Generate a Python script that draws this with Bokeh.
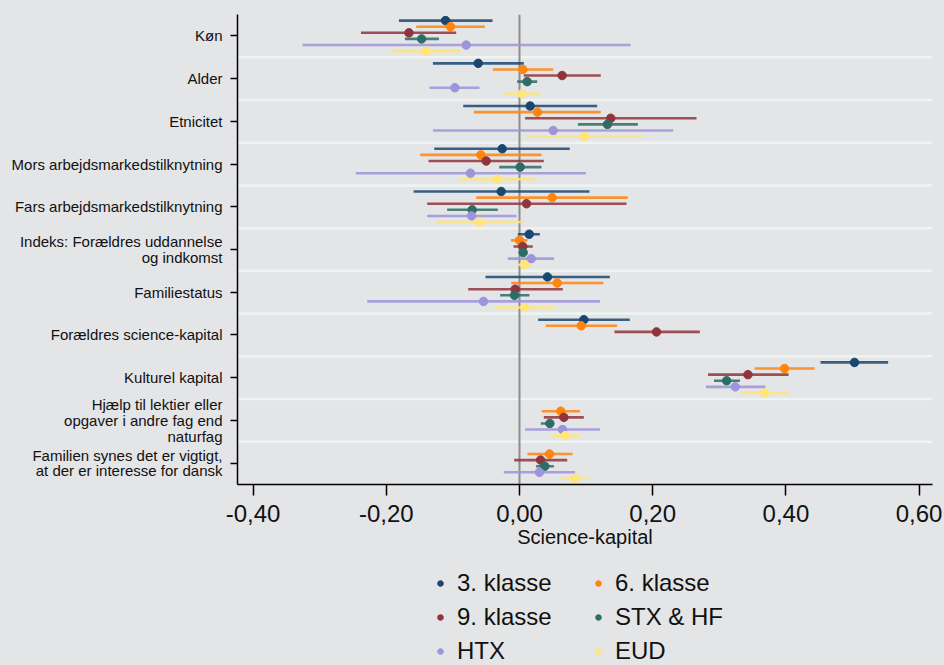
from bokeh.plotting import figure
from bokeh.layouts import column
from bokeh.models import (FactorRange, Range1d, Span, FixedTicker, Legend, LegendItem,
                          ColumnDataSource)
from bokeh.transform import dodge
from bokeh.embed import file_html
from bokeh.resources import INLINE

nan = float("nan")

categories = [
    "Køn",
    "Alder",
    "Etnicitet",
    "Mors arbejdsmarkedstilknytning",
    "Fars arbejdsmarkedstilknytning",
    "Indeks: Forældres uddannelse\nog indkomst",
    "Familiestatus",
    "Forældres science-kapital",
    "Kulturel kapital",
    "Hjælp til lektier eller\nopgaver i andre fag end\nnaturfag",
    "Familien synes det er vigtigt,\nat der er interesse for dansk",
]

series = ["3. klasse", "6. klasse", "9. klasse", "STX & HF", "HTX", "EUD"]
colors = ["#1a476f", "#ff850f", "#90353b", "#2d6d66", "#9d94dc", "#ffe57a"]

est_3 = [-0.111, -0.062, 0.016, -0.026, -0.0275, 0.0146, 0.042, 0.0966, 0.503, nan, nan]
lo_3 = [-0.181, -0.130, -0.0845, -0.128, -0.159, -0.0025, -0.051, 0.028, 0.452, nan, nan]
hi_3 = [-0.0405, 0.0065, 0.1166, 0.0755, 0.105, 0.0305, 0.1356, 0.1656, 0.5535, nan, nan]

est_6 = [-0.1036, 0.005, 0.027, -0.058, 0.049, 0.0, 0.0566, 0.0926, 0.398, 0.062, 0.045]
lo_6 = [-0.155, -0.040, -0.0686, -0.149, -0.065, -0.013, -0.0125, 0.0396, 0.353, 0.0335, 0.012]
hi_6 = [-0.052, 0.0506, 0.122, 0.033, 0.1626, 0.012, 0.126, 0.1466, 0.443, 0.091, 0.0796]

est_9 = [-0.166, 0.064, 0.137, -0.050, 0.0105, 0.005, -0.0065, 0.2057, 0.343, 0.0666, 0.0316]
lo_9 = [-0.238, 0.0065, 0.0085, -0.1366, -0.1386, -0.009, -0.077, 0.1426, 0.283, 0.0365, -0.008]
hi_9 = [-0.095, 0.122, 0.2658, 0.0365, 0.1607, 0.020, 0.065, 0.2708, 0.404, 0.0966, 0.0716]

est_stx = [-0.147, 0.0115, 0.132, 0.001, -0.071, 0.0055, -0.0075, nan, 0.311, 0.0456, 0.038]
lo_stx = [-0.172, -0.0035, 0.0876, -0.0305, -0.1086, 0.002, -0.029, nan, 0.292, 0.032, 0.025]
hi_stx = [-0.121, 0.0265, 0.1777, 0.033, -0.0326, 0.009, 0.015, nan, 0.331, 0.0516, 0.0516]

est_htx = [-0.080, -0.097, 0.0506, -0.0736, -0.072, 0.0176, -0.054, nan, 0.324, 0.0646, 0.030]
lo_htx = [-0.326, -0.135, -0.130, -0.2458, -0.1386, -0.0176, -0.2286, nan, 0.280, 0.0085, -0.0236]
hi_htx = [0.1667, -0.060, 0.2308, 0.0996, -0.0045, 0.052, 0.121, nan, 0.369, 0.121, 0.0836]

est_eud = [-0.140, 0.0035, 0.0976, -0.0335, -0.0596, 0.0075, 0.008, nan, 0.368, 0.0686, 0.083]
lo_eud = [-0.192, -0.0225, 0.010, -0.090, -0.125, -0.0025, -0.0375, nan, 0.332, 0.0476, 0.061]
hi_eud = [-0.0886, 0.030, 0.1857, 0.0245, 0.006, 0.018, 0.054, nan, 0.405, 0.090, 0.106]

x_ticks = [-0.4, -0.2, 0.0, 0.2, 0.4, 0.6]
x_tick_labels = ["-0,40", "-0,20", "0,00", "0,20", "0,40", "0,60"]

all_est = [est_3, est_6, est_9, est_stx, est_htx, est_eud]
all_lo = [lo_3, lo_6, lo_9, lo_stx, lo_htx, lo_eud]
all_hi = [hi_3, hi_6, hi_9, hi_stx, hi_htx, hi_eud]

BG = "#e4e5e7"
FONT = "Liberation Sans"

p = figure(
    y_range=FactorRange(factors=list(reversed(categories))),
    x_range=Range1d(-0.4234, 0.6201),
    width=944, height=554,
    output_backend="svg", toolbar_location=None,
    min_border_left=237, min_border_right=12, min_border_top=14, min_border_bottom=70,
    background_fill_color=BG, border_fill_color=BG, outline_line_color=None,
)

p.xgrid.grid_line_color = None
p.ygrid.grid_line_color = None

# separators between categories
for i in range(1, len(categories)):
    p.add_layout(Span(location=i, dimension="width", line_color="#eef3f3",
                      line_width=2.5, level="underlay"))

p.add_layout(Span(location=0, dimension="height", line_color="#8d8d8d",
                  line_width=2, level="underlay"))

# legend panel (separate figure below the plot)
lf = figure(width=944, height=111, output_backend="svg", toolbar_location=None,
            x_axis_type=None, y_axis_type=None,
            x_range=Range1d(0, 1), y_range=Range1d(0, 1),
            min_border_left=0, min_border_right=0, min_border_top=0, min_border_bottom=0,
            background_fill_color=BG, border_fill_color=BG, outline_line_color=None)
lf.xgrid.grid_line_color = None
lf.ygrid.grid_line_color = None

n = len(series)
legend_items = []
for k in range(n):
    rows = [i for i in range(len(categories)) if all_est[k][i] == all_est[k][i]]
    src = ColumnDataSource(dict(
        cat=[categories[i] for i in rows],
        est=[all_est[k][i] for i in rows],
        lo=[all_lo[k][i] for i in rows],
        hi=[all_hi[k][i] for i in rows],
    ))
    off = (2.5 - k) / 7.0
    yd = dodge("cat", off, range=p.y_range)
    p.segment(x0="lo", x1="hi", y0=yd, y1=yd, source=src,
              line_color=colors[k], line_width=2.6, line_alpha=0.85)
    p.scatter(x="est", y=yd, source=src, size=8.5,
              fill_color=colors[k], line_color=colors[k])
    # legend-only renderer (no visible point)
    lr = lf.scatter(x=[nan], y=[nan], size=6.5, fill_color=colors[k], line_color=colors[k])
    legend_items.append(LegendItem(label=series[k], renderers=[lr]))

# axes
p.xaxis.ticker = FixedTicker(ticks=x_ticks)
p.xaxis.major_label_overrides = {t: l for t, l in zip(x_ticks, x_tick_labels)}
p.xaxis.major_label_text_font = FONT
p.xaxis.major_label_text_font_size = "24px"
p.xaxis.major_label_text_color = "#111111"
p.xaxis.major_tick_in = 0
p.xaxis.major_tick_out = 11
p.xaxis.major_tick_line_width = 1.5
p.xaxis.minor_tick_line_color = None
p.xaxis.axis_line_width = 1.5
p.xaxis.major_label_standoff = 9
p.xaxis.axis_label = "Science-kapital"
p.xaxis.axis_label_text_font = FONT
p.xaxis.axis_label_text_font_size = "20px"
p.xaxis.axis_label_text_font_style = "normal"
p.xaxis.axis_label_text_color = "#111111"
p.xaxis.axis_label_standoff = 1

p.yaxis.major_label_text_font = FONT
p.yaxis.major_label_text_font_size = "15px"
p.yaxis.major_label_text_color = "#111111"
p.yaxis.major_label_text_line_height = 0.92
p.yaxis.major_tick_in = 0
p.yaxis.major_tick_out = 7
p.yaxis.major_tick_line_width = 1.5
p.yaxis.axis_line_width = 1.5
p.yaxis.major_label_standoff = 8

legend = Legend(items=legend_items, orientation="horizontal", ncols=2,
                location=(196, 0),
                label_text_font=FONT, label_text_font_size="24px",
                label_text_color="#111111",
                label_height=24, glyph_height=24, glyph_width=14,
                label_width=128, label_standoff=10, spacing=6,
                padding=0, margin=0,
                background_fill_alpha=0, border_line_color=None)
lf.add_layout(legend, "center")

layout = column(p, lf, spacing=0)

html = file_html(layout, INLINE)
html = html.replace("</head>", "<style>html,body{background:%s;}</style></head>" % BG, 1)
open("out.html", "w").write(html)
